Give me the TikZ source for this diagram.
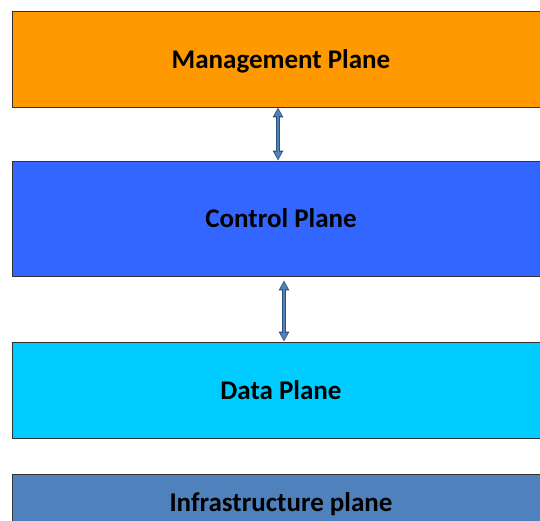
\documentclass[tikz,border=0pt]{standalone}
\usepackage{fontspec}
\setmainfont{Carlito}
\usepackage{tikz}
\usetikzlibrary{arrows.meta}
\definecolor{mgmtorange}{HTML}{FF9900}
\definecolor{ctrlblue}{HTML}{3366FF}
\definecolor{datacyan}{HTML}{00CCFF}
\definecolor{infrasteel}{HTML}{4F81BD}
\definecolor{linkblue}{HTML}{4F81BD}
\definecolor{linkedge}{HTML}{2F4F75}
\def\dlink{\draw[link]}

\begin{document}
\begin{tikzpicture}[x=1pt,y=-1pt,
    plane/.style={draw=black!80,line width=0.8pt,minimum width=538pt,
        inner sep=0pt,text height=20pt,text depth=1pt,
        font=\fontsize{27}{32}\selectfont\bfseries},
    link/.style={linkedge,line width=4pt,
        {Triangle[length=10pt,width=10pt]}-{Triangle[length=10pt,width=10pt]},
        postaction={draw=linkblue,line width=2.2pt,shorten <=1.3pt,shorten >=1.3pt,
        {Triangle[length=7.5pt,width=7pt]}-{Triangle[length=7.5pt,width=7pt]}}}]
                \useasboundingbox (0,0) rectangle (540,521);
                \clip (0,0) rectangle (540,521);
                \node[plane,fill=mgmtorange,minimum height=96pt] (mgmt) at (281, 59) {Management Plane};
                \node[plane,fill=ctrlblue,minimum height=115pt] (ctrl) at (281,218.5) {Control Plane};
                \node[plane,fill=datacyan,minimum height=96pt] (data) at (281,390) {Data Plane};
                \node[plane,fill=infrasteel,minimum height=56pt] (infra) at (281,502) {Infrastructure plane};
                \dlink ([xshift=-3pt]mgmt.south) -- ([xshift=-3pt]ctrl.north);
                \dlink ([xshift=3pt,yshift=-4pt]ctrl.south) -- ([xshift=3pt]data.north);
            \end{tikzpicture}
\end{document}
